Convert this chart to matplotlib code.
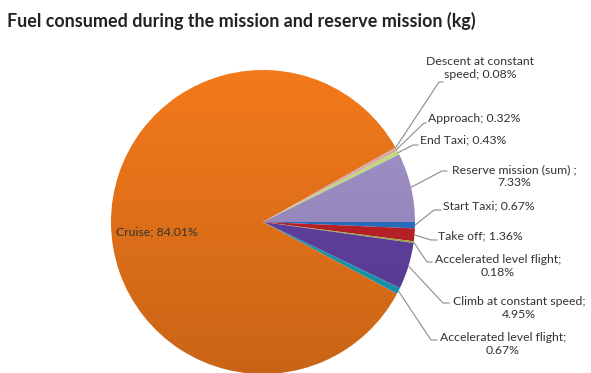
import numpy as np
import matplotlib.pyplot as plt
from matplotlib.colors import to_rgb

# fuel share per mission phase, in pie order (clockwise from 3 o'clock)
phases = ['Start Taxi', 'Take off', 'Accelerated level flight', 'Climb at constant speed',
          'Accelerated level flight', 'Cruise', 'Descent at constant speed', 'Approach',
          'End Taxi', 'Reserve mission (sum) ']
shares = [0.67, 1.36, 0.18, 4.95, 0.67, 84.01, 0.08, 0.32, 0.43, 7.33]
labels = ['Start Taxi; 0.67%', 'Take off; 1.36%', 'Accelerated level flight;\n0.18%',
          'Climb at constant speed;\n4.95%', 'Accelerated level flight;\n0.67%',
          'Cruise; 84.01%', 'Descent at constant\nspeed; 0.08%', 'Approach; 0.32%',
          'End Taxi; 0.43%', 'Reserve mission (sum) ;\n7.33%']
colors = ['#2A72C8', '#C0222A', '#9BB83C', '#6242A2', '#1C9DB9',
          '#EA751A', '#A6A6A6', '#E6A6A3', '#C2DE80', '#9E8FC6']

# label layout in pixels: text centre, leader elbow, leader end
W, H = 591, 373
CX, CY, R = 263, 222, 152
label_pos = [(489, 206), (480, 236), (498, 266), (519, 308), (503, 344),
             (157, 232), (480, 68), (474, 119), (463, 140), (514, 176)]
elbows = [(434, 210), (431, 240), (427, 262), (443, 303), (431, 340),
          None, (439, 82), (424, 123), (413, 145), (442, 171)]
ends = [(441, 210), (437, 240), (432, 262), (449, 303), (437, 340),
        None, (443, 82), (426, 123), (418, 145), (447, 171)]


def px(x, y):
    return (x - CX) / R, (CY - y) / R


fig = plt.figure(figsize=(W / 100, H / 100), dpi=100)
ax = fig.add_axes([0, 0, 1, 1])

wedges, _ = ax.pie(shares, startangle=0, counterclock=False, radius=1,
                   colors=colors, wedgeprops=dict(linewidth=0))

# vertical gradient fill (lighter on top, darker at the bottom)
t = np.linspace(0, 1, 256)[:, None]
for w, c in zip(wedges, colors):
    base = np.array(to_rgb(c))
    top = np.clip(base * 1.04, 0, 1)
    bot = base * 0.86
    img = bot[None, None, :] * (1 - t[..., None]) + top[None, None, :] * t[..., None]
    img = np.repeat(img, 2, axis=1)
    im = ax.imshow(img, extent=(-1, 1, -1, 1), origin='lower', zorder=w.get_zorder(),
                   interpolation='bilinear')
    im.set_clip_path(w)
    w.set_facecolor('none')

font = 'Lato'
for i, lab in enumerate(labels):
    x, y = px(*label_pos[i])
    ax.text(x, y, lab, ha='center', va='center', multialignment='center',
            fontsize=8.8, family=font, color='#333333', zorder=5)
    if elbows[i] is None:
        continue
    ang = np.deg2rad(-(sum(shares[:i]) + shares[i] / 2) / 100 * 360)
    x0, y0 = np.cos(ang), np.sin(ang)
    ex, ey = px(*elbows[i])
    fx, fy = px(*ends[i])
    ax.plot([x0, ex, fx], [y0, ey, fy], color='#8C8C8C', lw=0.8, zorder=4)

ax.set_xlim(-CX / R, (W - CX) / R)
ax.set_ylim((CY - H) / R, CY / R)
ax.set_aspect('equal')
ax.axis('off')

fig.text(7 / W, 1 - 21 / H, 'Fuel consumed during the mission and reserve mission (kg)',
         ha='left', va='center', fontsize=12.9, fontweight='bold', family=font,
         color='#222222')

fig.savefig('out.png', dpi=100)
